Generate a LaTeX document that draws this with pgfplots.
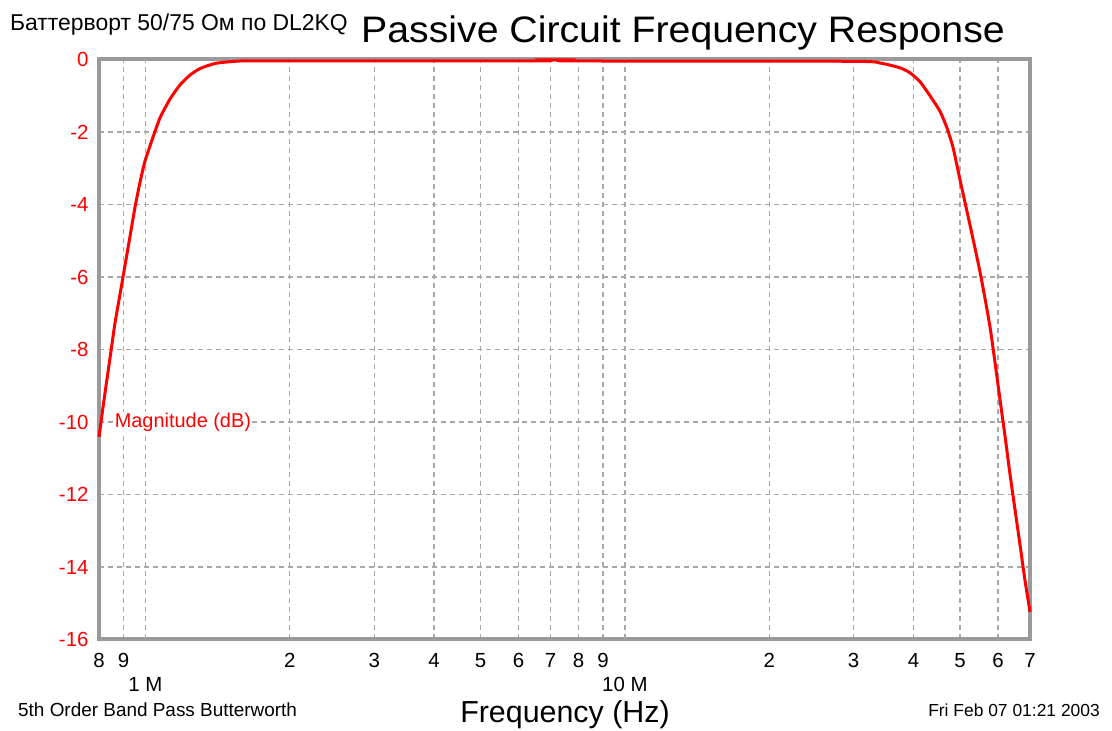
\documentclass[border=0pt]{standalone}
\usepackage{pgfplots}
\pgfplotsset{compat=1.18}
\usepackage{graphicx}
\usepackage{fontspec}
\setmainfont{Liberation Sans}
\definecolor{framegray}{HTML}{9A9A9A}
\definecolor{gridgray}{HTML}{A8A8A8}
\begin{document}
\begin{tikzpicture}[x=1bp,y=1bp]
\path[use as bounding box] (0,0) rectangle (1112,731);
\begin{axis}[
  at={(99bp,91.5bp)}, anchor=south west,
  scale only axis, width=931bp, height=580bp,
  xmode=log, log basis x=10,
  xmin=8e5, xmax=7e7, ymin=-16, ymax=0,
  axis line style={draw=framegray, line width=4bp},
  grid=major,
  major grid style={draw=gridgray, line width=1.3bp, dash pattern=on 5bp off 4bp},
  major tick length=0pt, minor tick length=0pt,
  xtick={8e5,9e5,2e6,3e6,4e6,5e6,6e6,7e6,8e6,9e6,2e7,3e7,4e7,5e7,6e7,7e7},
  xticklabels={8,9,2,3,4,5,6,7,8,9,2,3,4,5,6,7},
  xticklabel style={yshift=-10bp},
  extra x ticks={1e6,1e7},
  extra x tick labels={1 M,10 M},
  extra x tick style={grid=major, xticklabel style={yshift=-24bp}},
  ytick={-16,-14,-12,-10,-8,-6,-4,-2,0},
  yticklabels={-16,-14,-12,-10,-8,-6,-4,-2,0},
  ticklabel style={font=\fontsize{20.5}{24}\selectfont},
  yticklabel style={text=red, xshift=-7bp},
  clip=false,
]
\node[anchor=west, fill=white, text=red, inner sep=1bp, font=\fontsize{20}{24}\selectfont] at (axis cs:8.58e5,-10) {Magnitude (dB)};
\addplot[red, line width=3bp, smooth, tension=0.35] coordinates {
(8.0e5,-10.41) (8.155e5,-9.59) (8.313e5,-8.81) (8.474e5,-8.04) (8.638e5,-7.27)
(8.85e5,-6.47) (9.066e5,-5.67) (9.286e5,-4.87) (9.511e5,-4.07) (9.742e5,-3.38)
(9.978e5,-2.80) (1.0319e6,-2.22) (1.0723e6,-1.61) (1.125e6,-1.09) (1.1805e6,-0.70)
(1.2385e6,-0.43) (1.2995e6,-0.25) (1.3965e6,-0.11) (1.5375e6,-0.05) (1.7337e6,-0.04)
(6.6e6,-0.04) (6.7e6,-0.01) (7.6e6,-0.01) (7.7e6,-0.04)
(2.98e7,-0.05) (3.41e7,-0.10) (3.75e7,-0.23) (3.935e7,-0.37) (4.13e7,-0.62)
(4.39e7,-1.12) (4.55e7,-1.45) (4.70e7,-1.90) (4.84e7,-2.45) (5.00e7,-3.32) (5.25e7,-4.59)
(5.51e7,-5.89) (5.78e7,-7.41) (6.06e7,-9.39) (6.21e7,-10.41) (6.36e7,-11.46)
(6.67e7,-13.39) (6.83e7,-14.36) (7.0e7,-15.24)
};
\end{axis}
\node[anchor=base west, inner sep=0pt, font=\fontsize{23}{26}\selectfont] at (10,700) {Баттерворт 50/75 Ом по DL2KQ};
\node[anchor=base, inner sep=0pt, font=\fontsize{37}{40}\selectfont] at (683,688) {\scalebox{1.065}[1]{Passive Circuit Frequency Response}};
\node[anchor=base, inner sep=0pt, font=\fontsize{30.5}{34}\selectfont] at (565,8) {Frequency (Hz)};
\node[anchor=base west, inner sep=0pt, font=\fontsize{19}{22}\selectfont] at (18,14) {5th Order Band Pass Butterworth};
\node[anchor=base east, inner sep=0pt, font=\fontsize{17.5}{20}\selectfont] at (1100,14) {Fri Feb 07 01:21 2003};
\end{tikzpicture}
\end{document}
